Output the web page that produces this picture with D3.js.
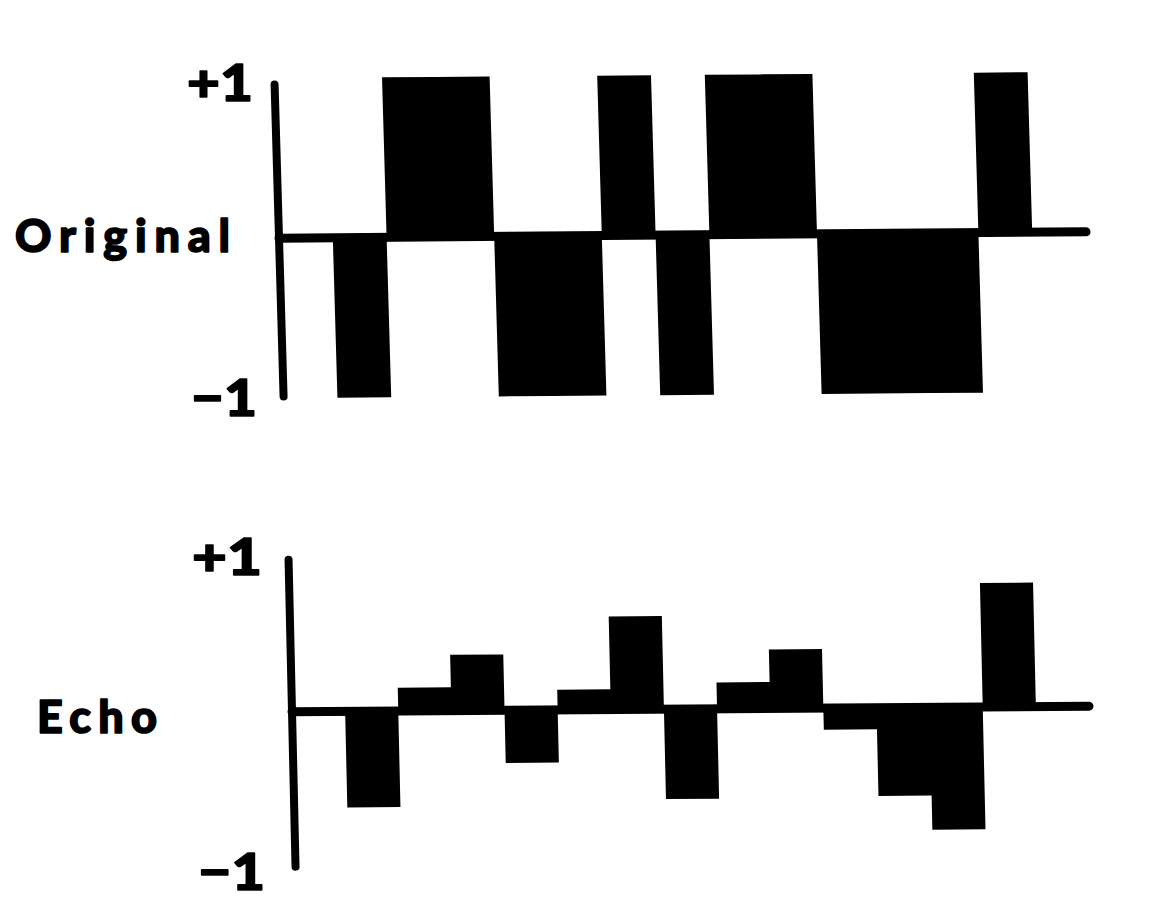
<!DOCTYPE html>
<html>
<head>
<meta charset="utf-8">
<script src="https://cdn.jsdelivr.net/npm/d3@7"></script>
<style>
  html, body { margin: 0; padding: 0; background: #fff; }
  svg { display: block; }
  text { font-family: "Lato", "DejaVu Sans", sans-serif; font-weight: 900; fill: #000; stroke: #000; stroke-width: 1.6; stroke-linejoin: round; }
</style>
</head>
<body>
<svg id="chart" width="1166" height="924"></svg>
<script>
// ---- data ----
const panelNames = ["Original", "Echo"];
const tickLabels = ["+1", "\u22121"];
const steps = d3.range(15);                       // time slots (one unit each)
const originalValues = [0, -1, 1, 1, -1, -1, 1, -1, 1, 1, -1, -1, -1, 1, 0];
const echoValues = [0, -0.62, 0.15, 0.36, -0.34, 0.13, 0.6, -0.58, 0.17, 0.38, -0.14, -0.57, -0.79, 0.8, 0];

const svg = d3.select("#chart");

const panels = [
  { name: panelNames[0], values: originalValues,
    x0: 279, x1: 1086, yTop: 75, yBot: 395, pivotX: 680, rot: -0.45, skew: 1.2,
    axisTop: 0.96, axisBot: -0.99,
    label: { x: 15, y: 252, len: 215 },
    ticks: [{ t: tickLabels[0], x: 187, y: 101, len: 66 }, { t: tickLabels[1], x: 191, y: 416, len: 66 }] },
  { name: panelNames[1], values: echoValues,
    x0: 292, x1: 1089, yTop: 554, yBot: 864, pivotX: 680, rot: -0.4, skew: 0.9,
    axisTop: 0.98, axisBot: -1.0,
    label: { x: 37, y: 733, len: 120 },
    ticks: [{ t: tickLabels[0], x: 192, y: 575, len: 70 }, { t: tickLabels[1], x: 198, y: 890, len: 67 }] }
];

panels.forEach(p => {
  const x = d3.scaleLinear().domain([0, steps.length]).range([p.x0, p.x1]);
  const y = d3.scaleLinear().domain([-1, 1]).range([p.yBot, p.yTop]);
  const base = y(0);

  const g = svg.append("g")
    .attr("transform", `rotate(${p.rot} ${p.pivotX} ${base}) translate(0 ${base}) skewX(${p.skew}) translate(0 ${-base})`);

  // bars as one stepped area (each value holds for one unit)
  const pts = steps.map(i => ({ t: i, v: p.values[i] }));
  pts.push({ t: steps.length, v: p.values[steps.length - 1] });
  const area = d3.area()
    .x(d => x(d.t))
    .y0(base)
    .y1(d => y(d.v))
    .curve(d3.curveStepAfter);
  g.append("path")
    .datum(pts)
    .attr("d", area)
    .attr("fill", "#000");

  // baseline (zero line)
  g.append("line")
    .attr("x1", x(0)).attr("x2", x(steps.length))
    .attr("y1", base).attr("y2", base)
    .attr("stroke", "#000").attr("stroke-width", 9).attr("stroke-linecap", "round");

  // vertical axis
  g.append("line")
    .attr("x1", x(0)).attr("x2", x(0))
    .attr("y1", y(p.axisTop)).attr("y2", y(p.axisBot))
    .attr("stroke", "#000").attr("stroke-width", 8).attr("stroke-linecap", "round");

  // tick labels
  p.ticks.forEach(t => {
    svg.append("text")
      .attr("x", t.x).attr("y", t.y)
      .attr("font-size", 52)
      .attr("textLength", t.len).attr("lengthAdjust", "spacingAndGlyphs")
      .text(t.t);
  });

  // panel label
  svg.append("text")
    .attr("x", p.label.x).attr("y", p.label.y)
    .attr("font-size", 45)
    .attr("textLength", p.label.len).attr("lengthAdjust", "spacing")
    .text(p.name);
});
</script>
</body>
</html>
